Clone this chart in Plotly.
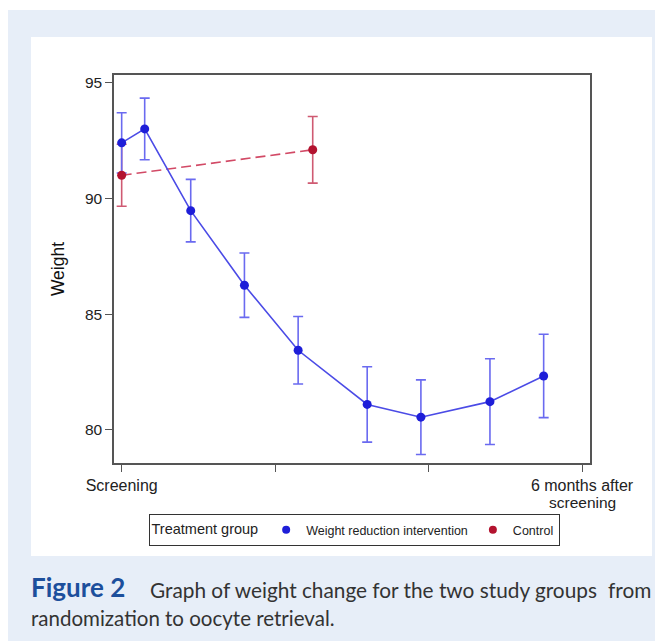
import plotly.graph_objects as go

# ---- data ----
x_ticks = [0, 2, 4, 6]
x_ticktext = ["Screening", "", "", "6 months after"]
x_last_label_line2 = "screening"
y_ticks = [80, 85, 90, 95]

wr_x = [0, 0.3, 0.9, 1.6, 2.3, 3.2, 3.9, 4.8, 5.5]
wr_y = [92.4, 93.0, 89.47, 86.25, 83.44, 81.1, 80.55, 81.22, 82.33]
wr_err = [1.30, 1.33, 1.35, 1.39, 1.46, 1.63, 1.61, 1.85, 1.80]

ct_x = [0, 2.49]
ct_y = [91.0, 92.1]
ct_err = [1.34, 1.44]

# ---- layout geometry (figure-local pixels; page has 8px body margin) ----
OFF = 8
W, H = 663 - OFF, 641 - OFF
L, R, T, B = 114 - OFF, 590 - OFF, 75 - OFF, 463 - OFF


def px(xpage):
    return (xpage - OFF - L) / (R - L)


def py(ypage):
    return (B - (ypage - OFF)) / (B - T)


BLUE_M = "#1e1ed8"
BLUE_L = "#4b4be6"
BLUE_E = "#6a6af0"
RED_M = "#b3132f"
RED_L = "#d24a66"
RED_E = "#cf5a72"
FONT = "Liberation Sans, Arial, sans-serif"
CAP_FONT = "Lato, Open Sans, sans-serif"

fig = go.Figure()

# control: error bars + dashed line first (below the blue markers)
fig.add_trace(go.Scatter(
    x=ct_x, y=ct_y, mode="lines", showlegend=False,
    line=dict(color=RED_L, width=1.6, dash="10px,5px"),
    error_y=dict(type="data", array=ct_err, color=RED_E, thickness=1.6, width=5),
))
fig.add_trace(go.Scatter(
    x=wr_x, y=wr_y, mode="lines+markers", showlegend=False,
    line=dict(color=BLUE_L, width=1.6),
    marker=dict(color=BLUE_M, size=9),
    error_y=dict(type="data", array=wr_err, color=BLUE_E, thickness=1.6, width=5),
))
# control markers on top
fig.add_trace(go.Scatter(
    x=ct_x, y=ct_y, mode="markers", showlegend=False,
    marker=dict(color=RED_M, size=9),
))
# legend entries (markers only, as in the reference)
fig.add_trace(go.Scatter(x=[None], y=[None], mode="markers", name="Weight reduction intervention",
                         marker=dict(color=BLUE_M, size=8)))
fig.add_trace(go.Scatter(x=[None], y=[None], mode="markers", name="Control",
                         marker=dict(color=RED_M, size=8)))

shapes = [
    # thin white strip at the very top of the page
    dict(type="rect", xref="paper", yref="paper", x0=px(0), x1=px(700), y0=py(10), y1=py(0),
         fillcolor="white", line_width=0, layer="below"),
    # white chart panel
    dict(type="rect", xref="paper", yref="paper", x0=px(31), x1=px(652), y0=py(556), y1=py(37),
         fillcolor="white", line_width=0, layer="below"),
]

annotations = [
    # second line of the last x tick label
    dict(text=x_last_label_line2, xref="x", yref="paper", x=x_ticks[-1], y=py(502),
         xanchor="center", yanchor="middle", showarrow=False,
         font=dict(family=FONT, size=15.5, color="#222222")),
    dict(text="<b>Figure 2</b>", xref="paper", yref="paper", x=px(29), y=py(587),
         xanchor="left", yanchor="middle", showarrow=False,
         font=dict(family=CAP_FONT, size=26, color="#1c4f9c")),
    dict(text="Graph of weight change for the two study groups", xref="paper", yref="paper",
         x=px(373), y=py(589), xanchor="center", yanchor="middle", showarrow=False,
         font=dict(family=CAP_FONT, size=20.8, color="#333333")),
    dict(text="from", xref="paper", yref="paper", x=px(653), y=py(589),
         xanchor="right", yanchor="middle", showarrow=False,
         font=dict(family=CAP_FONT, size=20.8, color="#333333")),
    dict(text="randomization to oocyte retrieval.", xref="paper", yref="paper",
         x=px(29), y=py(618), xanchor="left", yanchor="middle", showarrow=False,
         font=dict(family=CAP_FONT, size=20.5, color="#333333")),
]

fig.update_layout(
    width=W, height=H,
    margin=dict(l=L, r=W - R, t=T, b=H - B, autoexpand=False),
    paper_bgcolor="#e7eef8",
    plot_bgcolor="white",
    font=dict(family=FONT, color="#222222"),
    shapes=shapes,
    annotations=annotations,
    legend=dict(
        orientation="h", x=px(354), xanchor="center", y=py(514), yanchor="top",
        bgcolor="white", bordercolor="#333333", borderwidth=1,
        font=dict(family=FONT, size=12.5, color="#222222"),
        title=dict(text="Treatment group", side="left",
                   font=dict(family=FONT, size=14.5, color="#222222")),
        itemwidth=30, tracegroupgap=0,
    ),
    xaxis=dict(
        range=[-0.1, 6.104], tickvals=x_ticks, ticktext=x_ticktext,
        showgrid=False, zeroline=False, showline=True, mirror=True,
        linecolor="#555555", linewidth=1.5, ticks="outside", ticklen=7,
        tickcolor="#555555", tickwidth=1.2,
        tickfont=dict(family=FONT, size=16, color="#222222"),
    ),
    yaxis=dict(
        range=[78.57, 95.33], tickvals=y_ticks,
        showgrid=False, zeroline=False, showline=True, mirror=True,
        linecolor="#555555", linewidth=1.5, ticks="outside", ticklen=7,
        tickcolor="#555555", tickwidth=1.2,
        tickfont=dict(family=FONT, size=15.5, color="#222222"),
        title=dict(text="Weight", standoff=16, font=dict(family=FONT, size=17.5, color="#111111")),
    ),
)

fig.write_html("out.html")
